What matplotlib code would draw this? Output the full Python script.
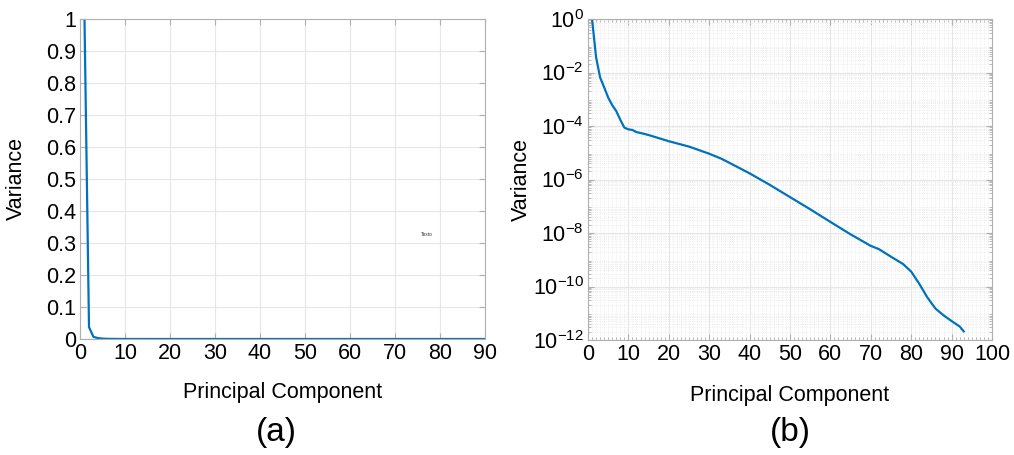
import numpy as np
import matplotlib
matplotlib.use('Agg')
from matplotlib import pyplot as plt
from matplotlib.ticker import MultipleLocator, LogLocator, NullFormatter

# explained variance of each principal component
components = [1, 2, 3, 4, 5, 6, 7, 8, 9, 10, 11, 12, 13, 15, 20, 25, 30, 33, 35,
              40, 45, 50, 55, 60, 65, 70, 72, 75, 78, 80, 82, 84, 86, 88, 90, 92, 93]
variance = [1.0, 3.7e-2, 6.5e-3, 2.8e-3, 1.15e-3, 6.0e-4, 3.6e-4, 1.7e-4, 8.7e-5,
            7.5e-5, 7.1e-5, 5.9e-5, 5.5e-5, 4.6e-5, 2.7e-5, 1.7e-5, 9.2e-6, 6.0e-6,
            4.2e-6, 1.7e-6, 6.3e-7, 2.2e-7, 7.7e-8, 2.6e-8, 8.9e-9, 3.3e-9, 2.5e-9,
            1.3e-9, 6.9e-10, 3.6e-10, 1.26e-10, 3.9e-11, 1.5e-11, 8.4e-12, 5.1e-12,
            3.2e-12, 2.1e-12]

lin_yticks = [0, 0.1, 0.2, 0.3, 0.4, 0.5, 0.6, 0.7, 0.8, 0.9, 1]
lin_ylabels = ['0', '0.1', '0.2', '0.3', '0.4', '0.5', '0.6', '0.7', '0.8', '0.9', '1']
log_yticks = [1e-12, 1e-10, 1e-8, 1e-6, 1e-4, 1e-2, 1e0]

plt.rcParams['font.family'] = ['Liberation Sans', 'DejaVu Sans']
plt.rcParams['font.size'] = 15.5

blue = '#0072BD'
grid_col = '#e6e6e6'
box_col = '#b0b0b0'

fig = plt.figure(figsize=(10.14, 4.55), dpi=100)
ax1 = fig.add_axes([80 / 1014, 1 - 339 / 455, 405 / 1014, 320 / 455])
ax2 = fig.add_axes([588 / 1014, 1 - 340 / 455, 404 / 1014, 321 / 455])


def matlab_style(ax):
    for s in ax.spines.values():
        s.set_color(box_col)
        s.set_linewidth(0.8)
    ax.tick_params(which='both', direction='in', color=box_col, top=True, right=True,
                   labelsize=15.5, labelcolor='black', pad=3)
    ax.tick_params(which='major', length=4)
    ax.tick_params(which='minor', length=2)
    ax.set_axisbelow(True)


# (a) linear scale
ax1.plot(components, variance, color=blue, lw=1.6)
ax1.set_xlim(0, 90)
ax1.set_ylim(0, 1)
ax1.set_xticks(np.arange(0, 91, 10))
ax1.set_yticks(lin_yticks)
ax1.set_yticklabels(lin_ylabels)
ax1.grid(True, color=grid_col, lw=0.8)
matlab_style(ax1)
ax1.set_xlabel('Principal Component', labelpad=13)
ax1.set_ylabel('Variance')
ax1.yaxis.set_label_coords(-0.132, 0.5)
ax1.text(77, 0.325, 'Texto', fontsize=3.5, color='#333333', ha='center', va='center')

# (b) log scale
ax2.semilogy(components, variance, color=blue, lw=1.6)
ax2.set_xlim(0, 100)
ax2.set_ylim(1e-12, 1)
ax2.set_xticks(np.arange(0, 101, 10))
ax2.set_yticks(log_yticks)
ax2.yaxis.set_minor_locator(LogLocator(base=10, subs=np.arange(2, 10), numticks=30))
ax2.yaxis.set_minor_formatter(NullFormatter())
ax2.xaxis.set_minor_locator(MultipleLocator(1))
ax2.grid(True, which='major', color=grid_col, lw=0.8)
ax2.grid(True, which='minor', color='#e8e8e8', lw=0.6, ls=':')
matlab_style(ax2)
ax2.set_xlabel('Principal Component', labelpad=14)
ax2.set_ylabel('Variance')
ax2.yaxis.set_label_coords(-0.139, 0.5)

fig.text(276 / 1014, 1 - 433 / 455, '(a)', fontsize=24, ha='center', va='center')
fig.text(790 / 1014, 1 - 433 / 455, '(b)', fontsize=24, ha='center', va='center')

fig.savefig('out.png', dpi=100)
